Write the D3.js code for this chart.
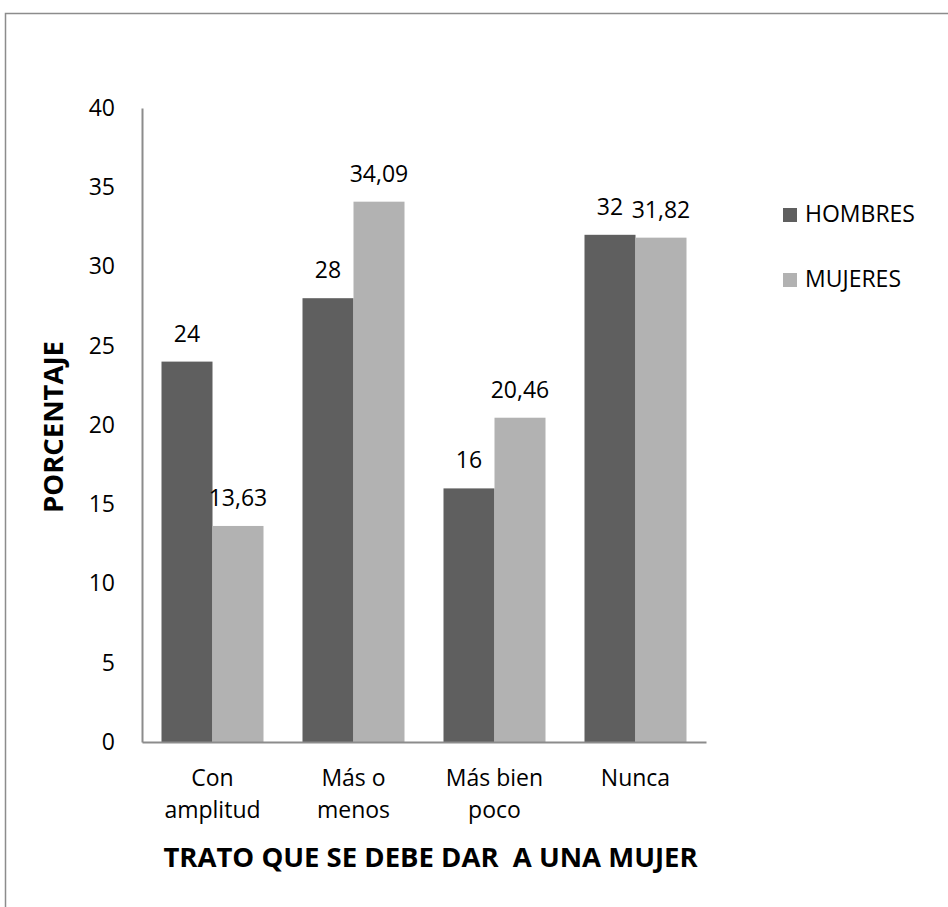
<!DOCTYPE html>
<html><head><meta charset="utf-8">
<script src="https://cdn.jsdelivr.net/npm/d3@7"></script>
<style>body{margin:0;background:#fff}svg{display:block}text{font-family:"Open Sans",sans-serif}</style>
</head><body>
<script>
const categories = [["Con","amplitud"],["Más o","menos"],["Más bien","poco"],["Nunca"]];
const seriesNames = ["HOMBRES","MUJERES"];
const hombres = [24, 28, 16, 32];
const mujeres = [13.63, 34.09, 20.46, 31.82];
const hombresLabels = ["24","28","16","32"];
const mujeresLabels = ["13,63","34,09","20,46","31,82"];
const yTicks = [0,5,10,15,20,25,30,35,40];
const colors = ["#5f5f5f","#b2b2b2"];

const W = 948, H = 907;
const svg = d3.select("body").append("svg").attr("width", W).attr("height", H);
svg.append("rect").attr("x",5.5).attr("y",13.5).attr("width",W+20).attr("height",H+20)
  .attr("fill","none").attr("stroke","#8c8c8c").attr("stroke-width",1.5);

const x0 = 142, x1 = 706, yTop = 108, yBot = 742;
const x = d3.scaleBand().domain(d3.range(categories.length)).range([x0,x1]).paddingInner(39/141).paddingOuter(19.5/141);
const xs = d3.scaleBand().domain([0,1]).range([0,x.bandwidth()]);
const y = d3.scaleLinear().domain([0,40]).range([yBot,yTop]);
const fs = 23;

// y axis
const yAxis = d3.axisLeft(y).tickValues(yTicks).tickSize(0).tickPadding(27);
const gy = svg.append("g").attr("transform",`translate(${x0},0)`).call(yAxis);
gy.select(".domain").attr("stroke","#8c8c8c").attr("stroke-width",2);
gy.selectAll("text").attr("font-size",fs).attr("fill","#000").attr("font-family","Open Sans");

// bars
const data = [hombres, mujeres];
const labels = [hombresLabels, mujeresLabels];
data.forEach((arr, s) => {
  svg.append("g").selectAll("rect").data(arr).join("rect")
    .attr("x",(d,i)=>x(i)+xs(s)).attr("y",d=>y(d))
    .attr("width",xs.bandwidth()).attr("height",d=>y(0)-y(d))
    .attr("fill",colors[s]);
  svg.append("g").selectAll("text").data(arr).join("text")
    .attr("x",(d,i)=>x(i)+xs(s)+xs.bandwidth()/2).attr("y",d=>y(d)-20)
    .attr("text-anchor","middle").attr("font-size",fs).attr("fill","#000")
    .text((d,i)=>labels[s][i]);
});

// x axis line
const xAxis = d3.axisBottom(x).tickSize(0).tickFormat("");
const gx = svg.append("g").attr("transform",`translate(0,${yBot})`).call(xAxis);
gx.select(".domain").attr("stroke","#8c8c8c").attr("stroke-width",2);
categories.forEach((lines,i)=>{
  lines.forEach((t,j)=>{
    svg.append("text").attr("x",x(i)+x.bandwidth()/2).attr("y",786+j*32)
      .attr("text-anchor","middle").attr("font-size",fs).attr("fill","#000").text(t);
  });
});

// axis titles
svg.append("text").attr("x",430.5).attr("y",867).attr("text-anchor","middle")
  .attr("font-size",27.5).attr("font-weight","bold").style("white-space","pre")
  .text("TRATO QUE SE DEBE DAR  A UNA MUJER");
svg.append("text").attr("transform","translate(63,427) rotate(-90)").attr("text-anchor","middle")
  .attr("font-size",27.5).attr("font-weight","bold").text("PORCENTAJE");

// legend
seriesNames.forEach((n,i)=>{
  const ly = 222 + i*65;
  svg.append("rect").attr("x",783).attr("y",ly-14).attr("width",14).attr("height",14).attr("fill",colors[i]);
  svg.append("text").attr("x",805).attr("y",ly).attr("font-size",fs).attr("fill","#000").text(n);
});
</script>
</body></html>
